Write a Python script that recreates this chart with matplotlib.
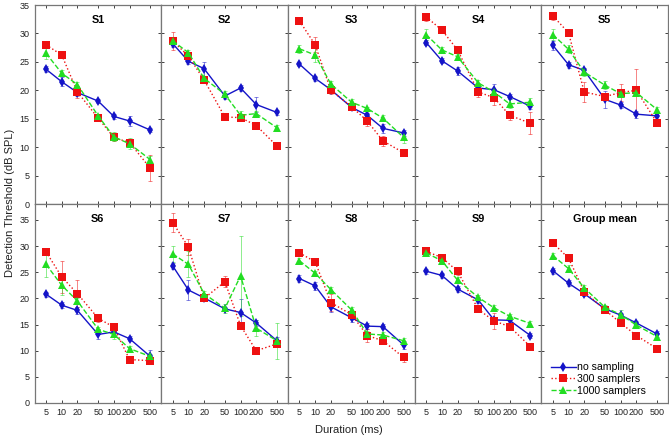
import numpy as np
import matplotlib
matplotlib.use('Agg')
import matplotlib.pyplot as plt

plt.rcParams['font.family'] = ['Liberation Sans', 'DejaVu Sans']

# Durations (ms) and panel titles
durations = [5, 10, 20, 50, 100, 200, 500]
panel_titles = ['S1', 'S2', 'S3', 'S4', 'S5',
                'S6', 'S7', 'S8', 'S9', 'Group mean']
series_labels = ['no sampling', '300 samplers', '1000 samplers']

# Detection thresholds (dB SPL), one row per panel
thr_none = [
    [23.7, 21.5, 19.6, 18.1, 15.4, 14.6, 13.0],
    [28.2, 25.1, 23.8, 19.0, 20.4, 17.5, 16.1],
    [24.6, 22.1, 20.1, 17.0, 15.6, 13.3, 12.5],
    [28.4, 25.2, 23.4, 20.4, 20.1, 18.9, 17.2],
    [27.9, 24.5, 23.5, 18.4, 17.4, 15.8, 15.5],
    [20.8, 18.7, 17.7, 13.1, 13.6, 12.3, 8.9],
    [26.2, 21.6, 20.1, 18.0, 17.3, 15.3, 11.9],
    [23.8, 22.4, 18.4, 16.3, 14.7, 14.6, 11.1],
    [25.2, 24.4, 21.8, 19.7, 15.9, 15.8, 12.9],
    [25.3, 22.9, 20.9, 18.0, 16.8, 15.3, 13.2],
]
thr_300 = [
    [28.0, 26.2, 19.7, 15.1, 11.7, 10.8, 6.3],
    [28.7, 26.0, 21.8, 15.3, 15.2, 13.8, 10.2],
    [32.2, 28.0, 20.0, 17.1, 14.6, 11.1, 9.0],
    [32.9, 30.6, 27.1, 19.7, 18.7, 15.6, 14.2],
    [33.1, 30.1, 19.7, 18.9, 19.6, 20.0, 14.3],
    [28.9, 24.1, 20.9, 16.2, 14.5, 8.3, 8.1],
    [34.5, 29.8, 20.0, 23.2, 14.8, 10.0, 11.3],
    [28.7, 27.0, 19.2, 16.9, 12.9, 11.9, 8.7],
    [29.0, 27.8, 25.2, 17.9, 15.7, 14.6, 10.8],
    [30.6, 27.7, 21.3, 17.8, 15.3, 12.9, 10.4],
]
thr_1000 = [
    [26.5, 23.0, 21.0, 15.5, 11.8, 10.6, 7.8],
    [28.7, 26.6, 22.1, 19.3, 15.6, 15.9, 13.4],
    [27.3, 26.2, 21.1, 17.9, 16.8, 15.1, 11.7],
    [29.8, 27.1, 25.9, 21.3, 19.7, 17.6, 17.9],
    [29.8, 27.2, 23.2, 20.9, 19.4, 19.6, 16.6],
    [26.5, 22.5, 19.5, 14.1, 13.1, 10.4, 8.9],
    [28.5, 26.5, 20.9, 18.1, 24.3, 14.3, 11.9],
    [27.2, 24.8, 21.7, 17.8, 13.2, 13.0, 11.9],
    [28.7, 27.2, 23.5, 20.2, 18.2, 16.6, 15.2],
    [28.2, 25.7, 22.0, 18.3, 16.9, 14.9, 12.7],
]

# Error bars (dB)
err_none = [
    [0.5, 0.8, 0.6, 0.4, 0.5, 0.9, 0.4],
    [0.6, 0.5, 1.2, 0.5, 0.5, 1.3, 0.4],
    [0.4, 0.4, 0.5, 0.5, 0.4, 0.8, 0.5],
    [0.5, 0.4, 0.7, 0.5, 1.0, 0.5, 0.5],
    [0.8, 0.5, 0.5, 1.5, 0.6, 0.6, 0.5],
    [0.5, 0.6, 0.7, 0.8, 0.6, 0.5, 1.3],
    [0.6, 1.9, 0.5, 0.4, 2.5, 0.5, 0.7],
    [0.6, 0.8, 1.0, 0.8, 0.6, 0.5, 0.7],
    [0.5, 0.5, 0.5, 0.5, 0.4, 0.5, 0.4],
    [0.6, 0.6, 0.5, 0.4, 0.5, 0.4, 0.6],
]
err_300 = [
    [0.3, 0.3, 1.0, 0.3, 0.6, 0.6, 2.3],
    [1.6, 0.4, 0.6, 0.5, 0.5, 0.3, 0.3],
    [0.5, 1.3, 0.6, 0.5, 0.8, 0.9, 0.5],
    [0.7, 0.5, 0.6, 0.8, 1.3, 0.8, 1.9],
    [0.7, 0.3, 1.8, 0.5, 1.5, 3.8, 0.4],
    [0.6, 3.0, 2.6, 0.7, 0.5, 0.5, 0.6],
    [1.8, 1.5, 0.5, 1.0, 0.5, 0.7, 0.5],
    [0.4, 0.4, 1.6, 0.5, 1.2, 0.5, 0.8],
    [0.6, 0.5, 0.8, 0.5, 1.5, 0.5, 0.5],
    [0.5, 0.4, 0.5, 0.5, 0.6, 0.7, 0.5],
]
err_1000 = [
    [1.0, 0.5, 0.5, 0.4, 0.8, 1.0, 0.6],
    [0.5, 0.4, 0.5, 0.6, 0.7, 0.5, 0.5],
    [0.7, 1.3, 0.5, 0.5, 0.3, 0.5, 0.9],
    [0.9, 0.6, 0.5, 0.5, 0.5, 0.8, 0.8],
    [0.9, 0.7, 0.7, 0.7, 0.5, 0.6, 0.5],
    [2.4, 1.9, 0.6, 0.5, 0.9, 0.5, 0.5],
    [1.5, 2.5, 0.6, 0.8, 7.6, 1.5, 3.4],
    [0.5, 0.5, 0.5, 0.5, 0.6, 0.5, 0.6],
    [0.5, 0.4, 0.5, 0.4, 0.5, 0.5, 0.4],
    [0.5, 0.6, 0.5, 0.5, 0.8, 0.6, 0.7],
]

# Styling for each series
STYLES = [
    dict(color='#1414c8', ls='-', marker='d', ms=5.0, lw=1.0),
    dict(color='#ee1111', ls=':', marker='s', ms=5.5, lw=1.0),
    dict(color='#22dd22', ls='--', marker='^', ms=6.0, lw=1.0),
]
SPINE_COLOR = '#777777'
TICK_FONT = 6.5

fig = plt.figure(figsize=(6.69, 4.37), dpi=100)

W, H = 669.0, 437.0
left_px, panel_w = 34.5, 126.7
rows_px = [(5.0, 204.0), (204.0, 403.0)]
ylims = [(0, 35), (0, 38.05)]

thr_sets = [thr_none, thr_300, thr_1000]
err_sets = [err_none, err_300, err_1000]

for idx, title in enumerate(panel_titles):
    r, c = divmod(idx, 5)
    top, bot = rows_px[r]
    ax = fig.add_axes([(left_px + c * panel_w) / W, 1 - bot / H,
                       panel_w / W, (bot - top) / H])

    handles = []
    for s in range(3):
        st = STYLES[s]
        ax.errorbar(durations, thr_sets[s][idx], yerr=err_sets[s][idx],
                    fmt='none', ecolor=st['color'], elinewidth=0.6,
                    capsize=1.5, capthick=0.6, alpha=0.6, zorder=2)
        h, = ax.plot(durations, thr_sets[s][idx], color=st['color'],
                     linestyle=st['ls'], linewidth=st['lw'],
                     marker=st['marker'], markersize=st['ms'],
                     markeredgewidth=0, zorder=3, label=series_labels[s])
        handles.append(h)

    ax.set_xscale('log')
    ax.set_xlim(3.0, 810)
    ax.set_ylim(*ylims[r])
    ax.set_xticks(durations)
    ax.minorticks_off()
    ax.set_yticks(range(0, 40, 5))
    ax.tick_params(direction='in', top=True, right=True, length=2.5,
                   width=0.6, colors='#222222', labelsize=TICK_FONT, pad=3.5)
    if r == 1:
        ax.set_xticklabels([str(d) for d in durations])
    else:
        ax.set_xticklabels([])
    if c != 0:
        ax.set_yticklabels([])
    for sp in ax.spines.values():
        sp.set_color(SPINE_COLOR)
        sp.set_linewidth(0.9)

    ax.text(0.5, 1 - 14.5 / (bot - top), title, transform=ax.transAxes,
            ha='center', va='center', fontsize=7.8, fontweight='bold')

    if idx == 9:
        ax.legend(handles=handles, loc='lower left', frameon=False,
                  fontsize=7.6, handlelength=2.3, handletextpad=0.15,
                  labelspacing=0.15, borderaxespad=0.3,
                  bbox_to_anchor=(0.02, 0.0))

fig.text(349 / W, 1 - 430 / H, 'Duration (ms)', ha='center', va='center',
         fontsize=8, color='#222222')
fig.text(10 / W, 1 - 203 / H, 'Detection Threshold (dB SPL)', ha='center',
         va='center', rotation=90, fontsize=8, color='#222222')

fig.savefig('out.png', dpi=100)
